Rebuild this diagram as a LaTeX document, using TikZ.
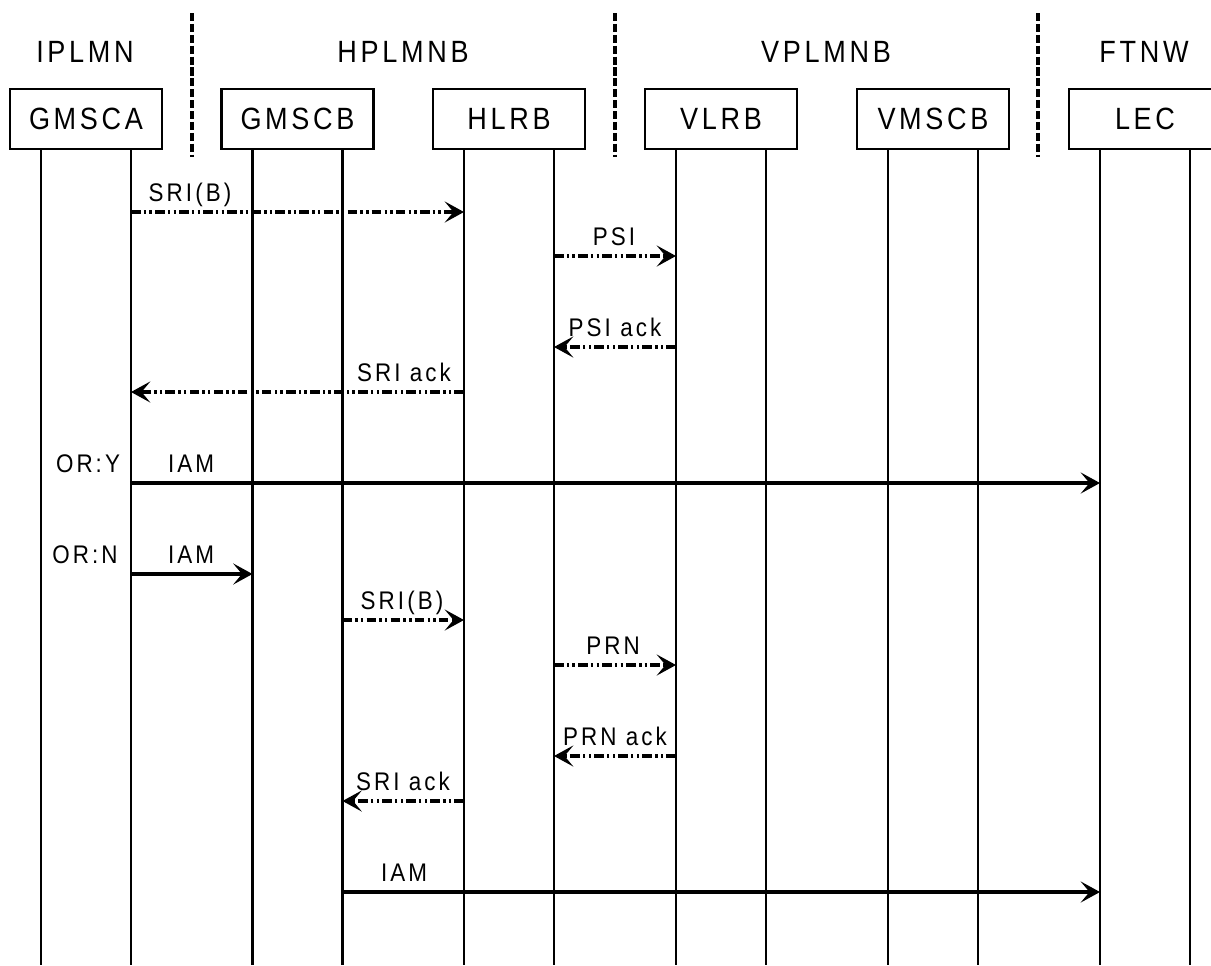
\documentclass[tikz,border=0pt]{standalone}
\usepackage{fontspec}
\setmainfont{Liberation Sans}[FakeStretch=0.88,LetterSpace=12]
\usetikzlibrary{arrows.meta}

\begin{document}
\begin{tikzpicture}[
    x=0.02cm, y=-0.02cm,
    every node/.style={inner sep=0pt, font=\fontsize{14.5}{16}\selectfont},
    netname/.style={anchor=base, font=\fontsize{17.5}{20}\selectfont},
    entity/.style={
        rectangle,
        draw,
        line width=1.5pt,
        minimum width=3.04cm,
        minimum height=1.2cm,
        font=\fontsize{17.5}{20}\selectfont
    },
    life/.style={line width=1.5pt},
    border/.style={line width=1.8pt, dash pattern=on 4.6pt off 1.6pt},
    msg/.style={line width=2pt, -{Stealth[length=11pt,width=12pt,inset=5pt]}},
    ctl/.style={msg, dash pattern=on 5.5pt off 1.8pt on 1.4pt off 1.8pt on 1.4pt off 1.8pt},
    lbl/.style={anchor=base}
]
\clip (0,0) rectangle (1211,965);

% networks
\node[netname] (iplmn) at (85,62) {IPLMN};
\node[netname] (hplmnb) at (403,62) {HPLMNB};
\node[netname] (vplmnb) at (826,62) {VPLMNB};
\node[netname] (ftnw) at (1144,62) {FTNW};

\foreach \n/\x in {s1/192, s2/615, s3/1038} {
    \coordinate (\n top) at (\x,13);
    \coordinate (\n bot) at (\x,157);
    \draw[border] (\n top) -- (\n bot);
}

% entities and lifelines
\coordinate (bot) at (0,965);
\foreach \n/\t/\c in {gmsca/GMSCA/86, gmscb/GMSCB/297.5, hlrb/HLRB/509,
                      vlrb/VLRB/721, vmscb/VMSCB/933, lec/LEC/1145} {
    \node[entity] (\n) at (\c,119) {\t};
    \coordinate (\n L) at (\c-45,149);
    \coordinate (\n R) at (\c+45,149);
    \draw[life] (\n L) -- (\n L |- bot);
    \draw[life] (\n R) -- (\n R |- bot);
}

% message rows
\foreach \m/\y in {m1/212, m2/256, m3/347, m4/392, m5/483, m6/574,
                   m7/620, m8/665, m9/756, m10/801, m11/892} {
    \coordinate (\m) at (0,\y);
}

% routing enquiry
\draw[ctl] (gmscaR |- m1) -- (hlrbL |- m1);
\node[lbl] (t1) at (190,201) {SRI(B)};
\draw[ctl] (hlrbR |- m2) -- (vlrbL |- m2);
\node[lbl] (t2) at (614,245) {PSI};
\draw[ctl] (vlrbL |- m3) -- (hlrbR |- m3);
\node[lbl] (t3) at (615,336) {PSI ack};
\draw[ctl] (hlrbL |- m4) -- (gmscaR |- m4);
\node[lbl] (t4) at (404,381) {SRI ack};

% call setup
\node[lbl] (ory) at (88,472) {OR:Y};
\draw[msg] (gmscaR |- m5) -- (lecL |- m5);
\node[lbl] (t5) at (191,472) {IAM};
\node[lbl] (orn) at (85,563) {OR:N};
\draw[msg] (gmscaR |- m6) -- (gmscbL |- m6);
\node[lbl] (t6) at (191,563) {IAM};

\draw[ctl] (gmscbR |- m7) -- (hlrbL |- m7);
\node[lbl] (t7) at (402,609) {SRI(B)};
\draw[ctl] (hlrbR |- m8) -- (vlrbL |- m8);
\node[lbl] (t8) at (613,654) {PRN};
\draw[ctl] (vlrbL |- m9) -- (hlrbR |- m9);
\node[lbl] (t9) at (615,745) {PRN ack};
\draw[ctl] (hlrbL |- m10) -- (gmscbR |- m10);
\node[lbl] (t10) at (403,790) {SRI ack};
\draw[msg] (gmscbR |- m11) -- (lecL |- m11);
\node[lbl] (t11) at (404,881) {IAM};

\end{tikzpicture}
\end{document}
